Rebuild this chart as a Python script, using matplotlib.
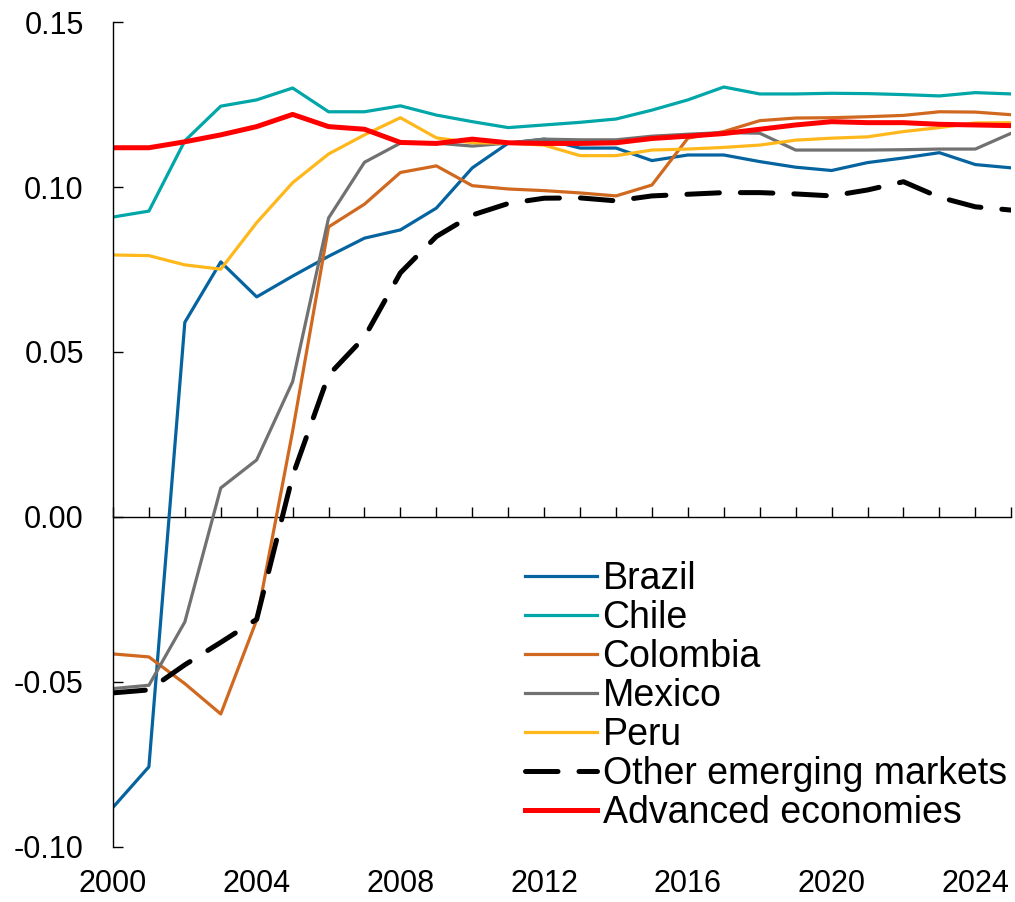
import matplotlib.pyplot as plt

plt.rcParams['font.family'] = ['Liberation Sans', 'DejaVu Sans']
plt.rcParams['axes.unicode_minus'] = False

years = list(range(2000, 2026))

brazil = [-0.088, -0.0757, 0.059, 0.0773, 0.0667, 0.073, 0.079, 0.0845, 0.087, 0.0936,
          0.1058, 0.1133, 0.1145, 0.1118, 0.1118, 0.108, 0.1097, 0.1097, 0.1077, 0.106,
          0.105, 0.1074, 0.1088, 0.1104, 0.1068, 0.1058]
chile = [0.0909, 0.0927, 0.114, 0.1245, 0.1264, 0.130, 0.1228, 0.1228, 0.1246, 0.1218,
         0.1198, 0.118, 0.1188, 0.1196, 0.1206, 0.1233, 0.1264, 0.1303, 0.1282, 0.1282,
         0.1284, 0.1283, 0.128, 0.1276, 0.1286, 0.1282]
colombia = [-0.0415, -0.0424, -0.0505, -0.0597, -0.0312, 0.026, 0.0879, 0.0948, 0.1044, 0.1064,
            0.1004, 0.0994, 0.0989, 0.0982, 0.0973, 0.1006, 0.1148, 0.1168, 0.1201, 0.1209,
            0.121, 0.1213, 0.1217, 0.1228, 0.1227, 0.1219]
mexico = [-0.052, -0.051, -0.0318, 0.0088, 0.0173, 0.041, 0.0906, 0.1075, 0.1133, 0.1133,
          0.1124, 0.1133, 0.1145, 0.1143, 0.1143, 0.1154, 0.116, 0.1165, 0.1163, 0.1112,
          0.1112, 0.1112, 0.1113, 0.1115, 0.1115, 0.1163]
peru = [0.0794, 0.0792, 0.0764, 0.0751, 0.0892, 0.1013, 0.110, 0.1158, 0.121, 0.1149,
        0.1134, 0.1133, 0.1127, 0.1095, 0.1095, 0.1112, 0.1115, 0.112, 0.1127, 0.1142,
        0.1148, 0.1152, 0.1168, 0.118, 0.1194, 0.1195]
other_em = [-0.0533, -0.0524, -0.0448, -0.038, -0.031, 0.0125, 0.043, 0.0545, 0.074, 0.085,
            0.0915, 0.095, 0.0966, 0.0967, 0.0958, 0.0973, 0.0978, 0.0983, 0.0983, 0.0979,
            0.0973, 0.0991, 0.1016, 0.0969, 0.094, 0.093]
advanced = [0.1119, 0.1119, 0.1137, 0.1158, 0.1183, 0.122, 0.1183, 0.1175, 0.1135, 0.1132,
            0.1145, 0.1134, 0.1132, 0.1132, 0.1134, 0.1147, 0.1154, 0.1162, 0.1175, 0.1188,
            0.1198, 0.1195, 0.1195, 0.119, 0.1188, 0.1186]

y_ticks = [-0.10, -0.05, 0.00, 0.05, 0.10, 0.15]
y_labels = ['-0.10', '-0.05', '0.00', '0.05', '0.10', '0.15']
x_ticks = [2000, 2004, 2008, 2012, 2016, 2020, 2024]

fig = plt.figure(figsize=(10.15, 9.02), dpi=100)
ax = fig.add_axes([0.1113, 0.061, 0.885, 0.9146])

ax.plot(years, brazil, color='#0563a0', lw=2.3, label='Brazil')
ax.plot(years, chile, color='#00a6a8', lw=2.3, label='Chile')
ax.plot(years, colombia, color='#d0691f', lw=2.3, label='Colombia')
ax.plot(years, mexico, color='#717171', lw=2.3, label='Mexico')
ax.plot(years, peru, color='#ffb81c', lw=2.3, label='Peru')
ax.plot(years, other_em, color='black', lw=3.6, dashes=(6.5, 4.2),
        dash_capstyle='round', label='Other emerging markets')
ax.plot(years, advanced, color='#ff0000', lw=3.6, label='Advanced economies')

ax.set_xlim(2000, 2025)
ax.set_ylim(-0.10, 0.15)

for s in ['top', 'right', 'bottom']:
    ax.spines[s].set_visible(False)
ax.spines['left'].set_linewidth(1.0)

ax.set_yticks(y_ticks)
ax.set_yticklabels(y_labels)
ax.tick_params(axis='y', direction='in', length=7, width=1, pad=21, labelsize=22)
ax.set_xticks(x_ticks)
ax.set_xticklabels([str(t) for t in x_ticks])
ax.tick_params(axis='x', length=0, pad=16, labelsize=22)

# zero line with a tick for every year
zero_ax = ax.secondary_xaxis(0.4)
zero_ax.set_xticks(years)
zero_ax.tick_params(axis='x', direction='in', length=7, width=1, labelbottom=False)
zero_ax.spines['bottom'].set_linewidth(1.0)

ax.legend(loc='upper left', bbox_to_anchor=(0.459, 0.347), frameon=False, fontsize=27,
          handlelength=1.9, handletextpad=0.16, labelspacing=0.08, borderaxespad=0,
          borderpad=0)

fig.savefig('out.png', dpi=100)
